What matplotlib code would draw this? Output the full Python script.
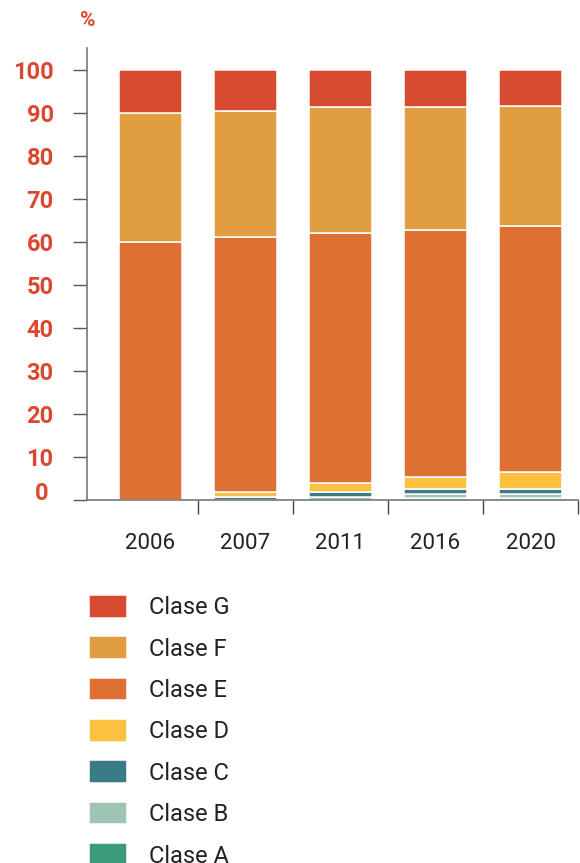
import matplotlib.pyplot as plt
import numpy as np

plt.rcParams['font.family'] = ['Roboto', 'DejaVu Sans']

# data (percent of stock per energy class)
years = ['2006', '2007', '2011', '2016', '2020']
clase_a = [0.0, 0.0, 0.0, 0.4, 0.4]
clase_b = [0.0, 0.0, 0.7, 1.1, 1.1]
clase_c = [0.0, 0.6, 1.2, 1.1, 1.1]
clase_d = [0.0, 1.3, 2.1, 2.7, 4.0]
clase_e = [60.0, 59.2, 58.1, 57.5, 57.0]
clase_f = [30.0, 29.3, 29.1, 28.4, 27.9]
clase_g = [10.0, 9.6, 8.8, 8.8, 8.5]

series = [('Clase A', clase_a, '#3e9a7c'),
          ('Clase B', clase_b, '#9ec4b4'),
          ('Clase C', clase_c, '#3b7a87'),
          ('Clase D', clase_d, '#fdc142'),
          ('Clase E', clase_e, '#de7034'),
          ('Clase F', clase_f, '#e09e41'),
          ('Clase G', clase_g, '#d64a2f')]

red = '#d9482f'
grey = '#777777'

fig = plt.figure(figsize=(5.8, 8.63), dpi=100)
ax = fig.add_axes([0.15, 0.4206, 0.8466, 0.5238])

x = np.arange(len(years))
bottom = np.zeros(len(years))
handles = []
for name, vals, col in series:
    b = ax.bar(x, vals, bottom=bottom, width=0.66, color=col,
               edgecolor='white', linewidth=1.1, label=name)
    handles.append(b)
    bottom += np.array(vals)

ax.set_xlim(-0.667, 4.5)
ax.set_ylim(0, 105)

for s in ['top', 'right']:
    ax.spines[s].set_visible(False)
for s in ['left', 'bottom']:
    ax.spines[s].set_color(grey)
    ax.spines[s].set_linewidth(1.2)

# y axis
yt = np.arange(0, 101, 10)
ax.set_yticks(yt)
ax.set_yticklabels([''] + [str(v) for v in yt[1:]])
ax.tick_params(axis='y', length=10, width=1, color='#555555', pad=14,
               labelsize=17, labelcolor=red)
for lab in ax.get_yticklabels():
    lab.set_fontweight('bold')
ax.annotate('0', xy=(0, 0), xycoords=('axes fraction', 'data'),
            xytext=(-14 - 14, 5), textcoords='offset points',
            ha='right', va='center', fontsize=17, fontweight='bold', color=red)

# x axis: labels centred, tick marks between bars
ax.set_xticks(x)
ax.set_xticklabels(years)
ax.tick_params(axis='x', which='major', length=0, pad=24, labelsize=16,
               labelcolor='#222222')
ax.set_xticks(np.arange(0.5, 5, 1), minor=True)
ax.tick_params(axis='x', which='minor', length=10, width=1, color='#444444')

fig.text(88 / 580, 1 - 21 / 863, '%', ha='center', va='center',
         fontsize=15, fontweight='bold', color=red)

fig.legend(handles[::-1], [s[0] for s in series][::-1],
           loc='upper left', bbox_to_anchor=(89 / 580, 1 - 595 / 863),
           frameon=False, fontsize=17, handlelength=1.61, handleheight=1.1,
           handletextpad=0.93, labelspacing=0.72, borderaxespad=0,
           borderpad=0, labelcolor='#222222')

fig.savefig('out.png', dpi=100)
